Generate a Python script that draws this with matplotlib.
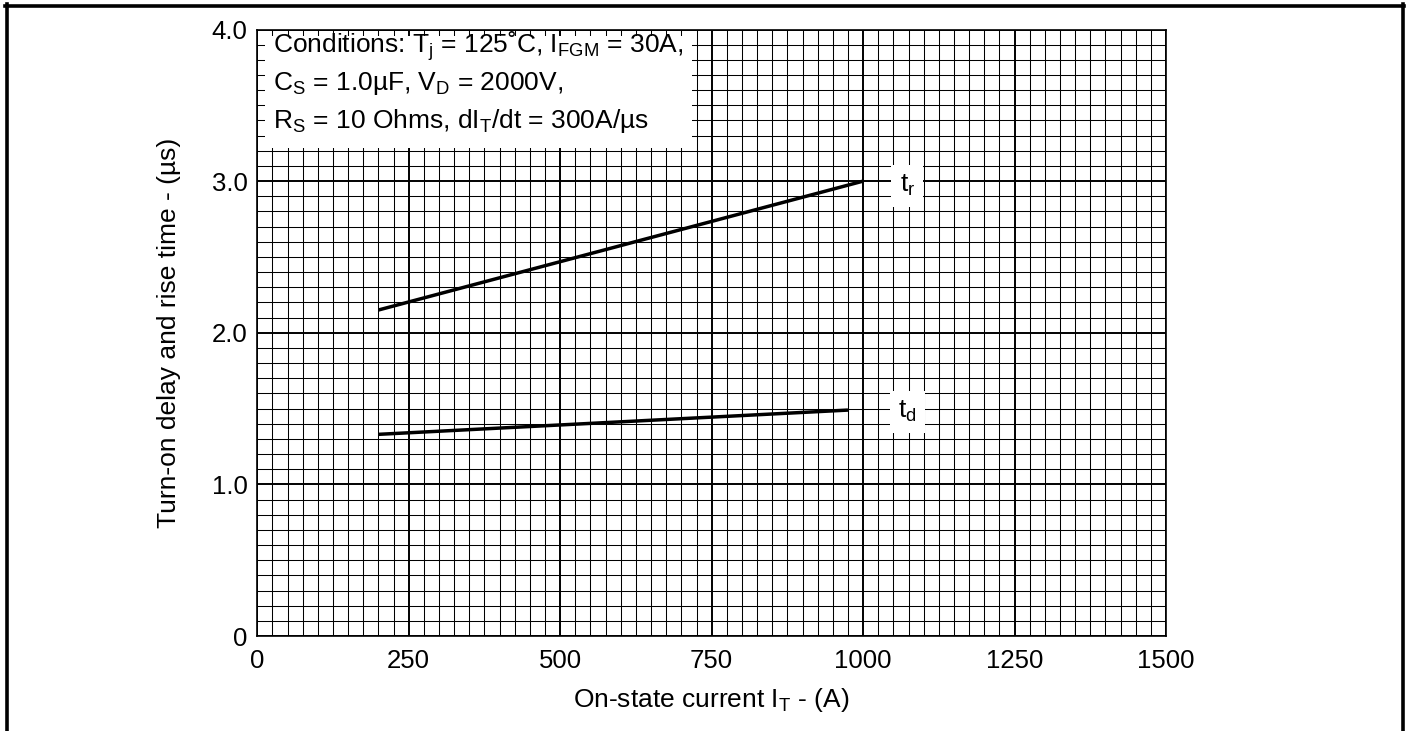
import matplotlib
matplotlib.use("Agg")
import matplotlib.pyplot as plt
from matplotlib.lines import Line2D
from matplotlib.patches import Rectangle
import numpy as np

plt.rcParams['font.family'] = ['Liberation Sans', 'DejaVu Sans']
plt.rcParams['mathtext.fontset'] = 'custom'
plt.rcParams['mathtext.rm'] = 'Liberation Sans'
plt.rcParams['mathtext.it'] = 'Liberation Sans'

# Data
tr_current = [200, 1000]
tr_time = [2.15, 3.0]
td_current = [200, 975]
td_time = [1.33, 1.49]
xticks = [0, 250, 500, 750, 1000, 1250, 1500]
yticks = [0, 1.0, 2.0, 3.0, 4.0]
ytick_labels = ["0", "1.0", "2.0", "3.0", "4.0"]

W, H = 1410, 731
fig = plt.figure(figsize=(W / 100, H / 100), dpi=100)
ax = fig.add_axes([257.3 / W, 1 - 636 / H, (1166 - 257.3) / W, (636 - 29.5) / H])

FS = 19
TFS = 18.5

ax.set_xlim(0, 1500)
ax.set_ylim(0, 4.0)
ax.set_xticks(xticks)
ax.set_yticks(yticks)
ax.set_yticklabels(ytick_labels)
ax.set_xticks(np.arange(0, 1501, 25), minor=True)
ax.set_yticks(np.arange(0, 4.001, 0.1), minor=True)
ax.tick_params(which='both', length=0)
ax.tick_params(axis='x', pad=9, labelsize=TFS)
ax.tick_params(axis='y', pad=7, labelsize=TFS)
ax.grid(which='minor', color='black', linewidth=0.75)
ax.grid(which='major', color='black', linewidth=1.4)
ax.set_axisbelow(True)
for s in ax.spines.values():
    s.set_linewidth(1.2)
    s.set_color('black')

ax.plot(tr_current, tr_time, color='black', lw=2.5, solid_capstyle='butt', zorder=3)
ax.plot(td_current, td_time, color='black', lw=2.5, solid_capstyle='butt', zorder=3)

# White box behind conditions
ax.add_patch(Rectangle((13, 3.217), 718 - 13, 3.954 - 3.217, facecolor='white',
                       edgecolor='none', zorder=4))
tx = 0.0173
ax.text(tx, 0.962, r"Conditions: T$_\mathregular{j}$ = 125˚C, I$_\mathregular{FGM}$ = 30A,",
        transform=ax.transAxes, fontsize=FS, va='baseline', ha='left', zorder=5)
ax.text(tx, 0.900, r"C$_\mathregular{S}$ = 1.0µF, V$_\mathregular{D}$ = 2000V,",
        transform=ax.transAxes, fontsize=FS, va='baseline', ha='left', zorder=5)
ax.text(tx, 0.838, r"R$_\mathregular{S}$ = 10 Ohms, dI$_\mathregular{T}$/dt = 300A/µs",
        transform=ax.transAxes, fontsize=FS, va='baseline', ha='left', zorder=5)

# Curve labels
ax.text(1073, 2.97, r"t$_\mathregular{r}$", fontsize=FS, ha='center', va='center', zorder=5,
        bbox=dict(facecolor='white', edgecolor='none', pad=6))
ax.text(1073, 1.48, r"t$_\mathregular{d}$", fontsize=FS, ha='center', va='center', zorder=5,
        bbox=dict(facecolor='white', edgecolor='none', pad=6))

ax.set_ylabel("Turn-on delay and rise time - (µs)", fontsize=FS, labelpad=22)
ax.set_xlabel(r"On-state current I$_\mathregular{T}$ - (A)", fontsize=FS, labelpad=10)

# Page frame
lw = 2.6
fig.add_artist(Line2D([6.5 / W, 6.5 / W], [0, 1 - 4 / H], color='black', lw=lw, transform=fig.transFigure))
fig.add_artist(Line2D([1402.5 / W, 1402.5 / W], [0, 1 - 4 / H], color='black', lw=lw, transform=fig.transFigure))
fig.add_artist(Line2D([5 / W, 1404 / W], [1 - 5.5 / H, 1 - 5.5 / H], color='black', lw=lw, transform=fig.transFigure))

fig.savefig("out.png", dpi=100)
